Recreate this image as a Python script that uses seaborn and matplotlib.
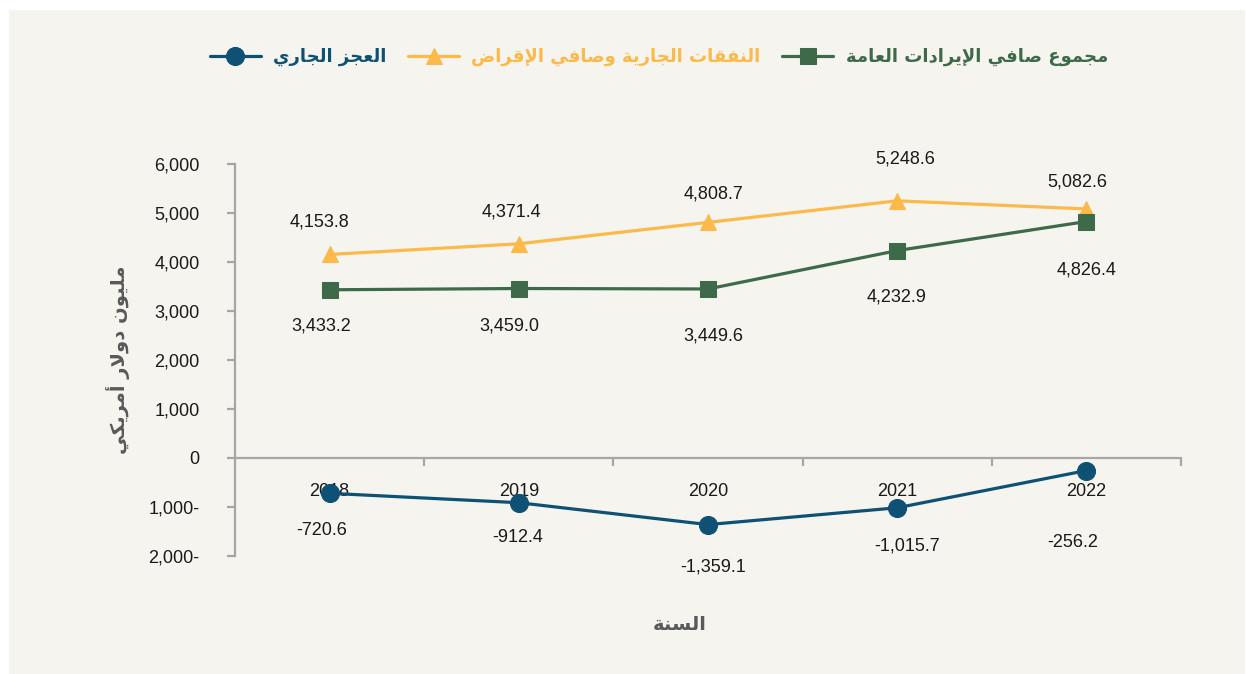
import numpy as np
import pandas as pd
import matplotlib
matplotlib.use("Agg")
import matplotlib.pyplot as plt
import seaborn as sns
from matplotlib.patches import Rectangle


years = ["2018", "2019", "2020", "2021", "2022"]
revenue = [3433.2, 3459.0, 3449.6, 4232.9, 4826.4]
expenditure = [4153.8, 4371.4, 4808.7, 5248.6, 5082.6]
deficit = [-720.6, -912.4, -1359.1, -1015.7, -256.2]

revenue_name = "مجموع صافي الإيرادات العامة"
expenditure_name = "النفقات الجارية وصافي الإقراض"
deficit_name = "العجز الجاري"
x_title = "السنة"
y_title = "مليون دولار أمريكي"

y_ticks = [-2000, -1000, 0, 1000, 2000, 3000, 4000, 5000, 6000]
y_ticklabels = ["2,000-", "1,000-", "0", "1,000", "2,000", "3,000", "4,000", "5,000", "6,000"]

GREEN = "#3e6a4a"
YELLOW = "#fdb94a"
NAVY = "#0e5174"
BG = "#f5f4ef"
AXIS = "#a6a6a6"


# matplotlib does not shape Arabic, so map letters to presentation forms
# (isolated, final, initial, medial) and reverse for display
FORMS = {
    "ا": ("\uFE8D", "\uFE8E", None, None),
    "أ": ("\uFE83", "\uFE84", None, None),
    "إ": ("\uFE87", "\uFE88", None, None),
    "ب": ("\uFE8F", "\uFE90", "\uFE91", "\uFE92"),
    "ة": ("\uFE93", "\uFE94", None, None),
    "ت": ("\uFE95", "\uFE96", "\uFE97", "\uFE98"),
    "ج": ("\uFE9D", "\uFE9E", "\uFE9F", "\uFEA0"),
    "د": ("\uFEA9", "\uFEAA", None, None),
    "ر": ("\uFEAD", "\uFEAE", None, None),
    "ز": ("\uFEAF", "\uFEB0", None, None),
    "س": ("\uFEB1", "\uFEB2", "\uFEB3", "\uFEB4"),
    "ص": ("\uFEB9", "\uFEBA", "\uFEBB", "\uFEBC"),
    "ض": ("\uFEBD", "\uFEBE", "\uFEBF", "\uFEC0"),
    "ع": ("\uFEC9", "\uFECA", "\uFECB", "\uFECC"),
    "ف": ("\uFED1", "\uFED2", "\uFED3", "\uFED4"),
    "ق": ("\uFED5", "\uFED6", "\uFED7", "\uFED8"),
    "ك": ("\uFED9", "\uFEDA", "\uFEDB", "\uFEDC"),
    "ل": ("\uFEDD", "\uFEDE", "\uFEDF", "\uFEE0"),
    "م": ("\uFEE1", "\uFEE2", "\uFEE3", "\uFEE4"),
    "ن": ("\uFEE5", "\uFEE6", "\uFEE7", "\uFEE8"),
    "ه": ("\uFEE9", "\uFEEA", "\uFEEB", "\uFEEC"),
    "و": ("\uFEED", "\uFEEE", None, None),
    "ي": ("\uFEF1", "\uFEF2", "\uFEF3", "\uFEF4"),
}
LAM_ALEF = {
    "ا": ("\uFEFB", "\uFEFC"),
    "أ": ("\uFEF7", "\uFEF8"),
    "إ": ("\uFEF9", "\uFEFA"),
    "آ": ("\uFEF5", "\uFEF6"),
}


def joins_next(c):
    return c in FORMS and FORMS[c][2] is not None


def shape(text):
    chars = list(text)
    n = len(chars)
    out = []
    i = 0
    while i < n:
        c = chars[i]
        prev = chars[i - 1] if i > 0 else None
        jp = prev is not None and joins_next(prev)
        if c == "ل" and i + 1 < n and chars[i + 1] in LAM_ALEF:
            iso, fin = LAM_ALEF[chars[i + 1]]
            out.append(fin if jp else iso)
            i += 2
            continue
        if c not in FORMS:
            out.append(c)
            i += 1
            continue
        iso, fin, ini, med = FORMS[c]
        jn = ini is not None and i + 1 < n and chars[i + 1] in FORMS
        if jp and jn:
            out.append(med)
        elif jp:
            out.append(fin)
        elif jn:
            out.append(ini)
        else:
            out.append(iso)
        i += 1
    return "".join(out)[::-1]


sns.set_theme(style="white")
plt.rcParams["font.family"] = ["Liberation Sans", "DejaVu Sans"]

x = np.arange(len(years))
df = pd.DataFrame({"x": x, "revenue": revenue, "expenditure": expenditure, "deficit": deficit})

fig = plt.figure(figsize=(12.46, 6.74), dpi=100, facecolor="white")
fig.patches.append(Rectangle((9 / 1246, 0), 1236 / 1246, 1 - 10 / 674,
                             transform=fig.transFigure, facecolor=BG, edgecolor="none", zorder=-10))
ax = fig.add_axes([235 / 1246, 1 - 556 / 674, (1181 - 235) / 1246, (556 - 164) / 674])
ax.set_facecolor("none")

sns.lineplot(data=df, x="x", y="expenditure", ax=ax, color=YELLOW, linewidth=2.3,
             marker="^", markersize=12, markeredgecolor=YELLOW, label=shape(expenditure_name))
sns.lineplot(data=df, x="x", y="revenue", ax=ax, color=GREEN, linewidth=2.3,
             marker="s", markersize=12, markeredgecolor=GREEN, label=shape(revenue_name))
sns.lineplot(data=df, x="x", y="deficit", ax=ax, color=NAVY, linewidth=2.3,
             marker="o", markersize=13, markeredgecolor=NAVY, label=shape(deficit_name))

ax.set_xlim(-0.5, len(years) - 0.5)
ax.set_ylim(-2000, 6000)

for s in ["top", "right"]:
    ax.spines[s].set_visible(False)
ax.spines["bottom"].set_position(("data", 0))
for s in ["left", "bottom"]:
    ax.spines[s].set_color(AXIS)
    ax.spines[s].set_linewidth(1.6)

ax.set_yticks(y_ticks)
ax.set_yticklabels(y_ticklabels)
ax.set_xticks(np.arange(len(years)) + 0.5)
ax.set_xticklabels([])
ax.set_xticks(x, minor=True)
ax.set_xticklabels(years, minor=True)
ax.tick_params(axis="y", which="major", direction="out", length=6, width=1.6, color=AXIS,
               labelsize=13, labelcolor="#1a1a1a", pad=19.5, left=True)
ax.tick_params(axis="x", which="major", direction="out", length=6, width=1.6, color=AXIS, bottom=True)
ax.tick_params(axis="x", which="minor", length=0, labelsize=13, labelcolor="#1a1a1a", pad=18)
ax.set_xlabel("")
ax.set_ylabel("")


def fmt(v):
    return f"{v:,.1f}"


exp_off = [(-10, 32), (-7, 32), (5, 28), (8, 42), (-9, 27)]
rev_off = [(-8, -36), (-9, -37), (5, -47), (-1, -46), (0, -48)]
def_off = [(-8, -37), (-1, -35), (5, -42), (10, -38), (-14, -72)]
for series, offs in [(expenditure, exp_off), (revenue, rev_off), (deficit, def_off)]:
    for xi, v, (dx, dy) in zip(x, series, offs):
        ax.annotate(fmt(v), (xi, v), xytext=(dx, dy), textcoords="offset pixels",
                    ha="center", va="center", fontsize=13, color="#1a1a1a")

fig.text(680 / 1246, 1 - 624 / 674, shape(x_title), ha="center", va="center",
         fontsize=14, fontweight="bold", color="#595959", family="DejaVu Sans")
fig.text(118 / 1246, 1 - 360 / 674, shape(y_title), ha="center", va="center", rotation=90,
         fontsize=14, fontweight="bold", color="#595959", family="DejaVu Sans")

handles, labels = ax.get_legend_handles_labels()
ax.get_legend().remove()
order = [2, 0, 1]
leg = fig.legend([handles[i] for i in order], [labels[i] for i in order],
                 loc="center", bbox_to_anchor=(659 / 1246, 1 - 57 / 674), ncol=3,
                 frameon=False, handlelength=2.8, columnspacing=1.2, handletextpad=0.7,
                 prop={"family": "DejaVu Sans", "weight": "bold", "size": 13})
for t, i in zip(leg.get_texts(), order):
    t.set_color([YELLOW, GREEN, NAVY][i])

fig.savefig("out.png", dpi=100, facecolor="white")
